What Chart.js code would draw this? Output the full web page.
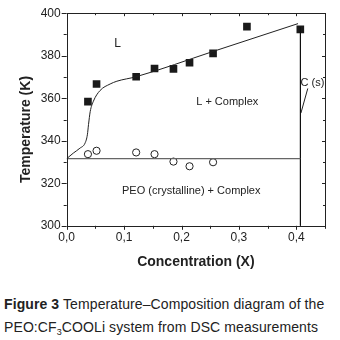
<!DOCTYPE html>
<html>
<head>
<meta charset="utf-8">
<script src="https://cdn.jsdelivr.net/npm/chart.js@4/dist/chart.umd.min.js"></script>
<style>
  body { margin: 0; background: #fff; width: 340px; height: 340px; overflow: hidden; }
  #wrap { position: absolute; left: 0; top: 0; width: 340px; height: 276px; }
  #caption {
    position: absolute; left: 4px; top: 293px; width: 336px;
    font-family: "Liberation Sans", Arial, sans-serif; font-size: 14px;
    line-height: 23px; color: #222; letter-spacing: 0.1px;
  }
  #caption b { font-weight: bold; }
  #caption sub { font-size: 9px; vertical-align: -3px; line-height: 0; }
</style>
</head>
<body>
<div id="wrap"><canvas id="chart"></canvas></div>
<div id="caption"><b>Figure 3</b> Temperature–Composition diagram of the<br>PEO:CF<sub>3</sub>COOLi system from DSC measurements</div>
<script>
// Liquidus (filled squares) from DSC
const liqX = [0.037, 0.052, 0.121, 0.153, 0.186, 0.214, 0.255, 0.314, 0.407];
const liqT = [358.4, 366.7, 370.1, 374.0, 373.8, 376.7, 381.1, 393.7, 392.4];

// Eutectic / melting of PEO (open circles)
const eutX = [0.037, 0.052, 0.121, 0.153, 0.186, 0.214, 0.255];
const eutT = [333.7, 335.3, 334.5, 333.7, 330.2, 328.0, 329.9];

// Hand drawn liquidus curve
const curveX = [0, 0.0116, 0.023, 0.032, 0.036, 0.038, 0.041, 0.0465, 0.058, 0.0757, 0.0874, 0.1206, 0.255, 0.403];
const curveT = [331.6, 334.2, 336.5, 338.9, 342.8, 347.6, 353.8, 358.6, 363.6, 366.7, 368.0, 370.1, 382.0, 395.1];

// Eutectic line and complex composition line
const eutLineX = [0, 0.407];
const eutLineT = [331.6, 331.6];
const compLineX = [0.4072, 0.4072];
const compLineT = [393.5, 300];
const pointerX = [0.408, 0.42];
const pointerT = [353, 364.6];

// Region labels
const regionText = ['L', 'L + Complex', 'PEO (crystalline) + Complex', 'C (s)'];
const regionX = [0.0885, 0.2797, 0.217, 0.4075];
const regionT = [385.6, 358.1, 316.4, 367.2];
const regionAlign = ['center', 'center', 'center', 'left'];

const xTicks = [0, 0.1, 0.2, 0.3, 0.4];
const xMinor = [0.05, 0.15, 0.25, 0.35, 0.45];
const yTicks = [300, 320, 340, 360, 380, 400];
const yMinor = [310, 330, 350, 370, 390];
const yTitle = 'Temperature (K)';

function pts(xs, ys) {
    return xs.map((x, i) => ({ x: x, y: ys[i] }));
}

const FONT = '"Liberation Sans", Arial, sans-serif';

// axis frame with minor/major ticks, y title and region labels
const framePlugin = {
    id: 'frame',
    afterDraw(chart) {
        const ctx = chart.ctx;
        const a = chart.chartArea;
        const xs = chart.scales.x;
        const ys = chart.scales.y;
        ctx.save();
        ctx.strokeStyle = '#222';
        ctx.lineWidth = 1;
        ctx.strokeRect(Math.round(a.left) + 0.5, Math.round(a.top) + 0.5,
            Math.round(a.right - a.left), Math.round(a.bottom - a.top));
        ctx.beginPath();
        yTicks.forEach(v => {
            const y = Math.round(ys.getPixelForValue(v)) + 0.5;
            ctx.moveTo(a.left - 5, y); ctx.lineTo(a.left, y);
            ctx.moveTo(a.right - 3, y); ctx.lineTo(a.right, y);
        });
        yMinor.forEach(v => {
            const y = Math.round(ys.getPixelForValue(v)) + 0.5;
            ctx.moveTo(a.left - 3, y); ctx.lineTo(a.left, y);
            ctx.moveTo(a.right - 2, y); ctx.lineTo(a.right, y);
        });
        xTicks.forEach(v => {
            const x = Math.round(xs.getPixelForValue(v)) + 0.5;
            ctx.moveTo(x, a.bottom); ctx.lineTo(x, a.bottom + 4);
            ctx.moveTo(x, a.top); ctx.lineTo(x, a.top + 3);
        });
        xMinor.forEach(v => {
            const x = Math.round(xs.getPixelForValue(v)) + 0.5;
            ctx.moveTo(x, a.bottom); ctx.lineTo(x, a.bottom + 3);
            ctx.moveTo(x, a.top); ctx.lineTo(x, a.top + 2);
        });
        ctx.stroke();

        ctx.fillStyle = '#222';
        ctx.textBaseline = 'middle';
        regionText.forEach((t, i) => {
            ctx.textAlign = regionAlign[i];
            ctx.font = (i === 0 ? '12px ' : '11px ') + FONT;
            ctx.fillText(t, xs.getPixelForValue(regionX[i]), ys.getPixelForValue(regionT[i]));
        });

        // y axis title, sits a little below the centre of the axis
        ctx.save();
        ctx.translate(26, ys.getPixelForValue(345.3));
        ctx.rotate(-Math.PI / 2);
        ctx.textAlign = 'center';
        ctx.font = 'bold 14px ' + FONT;
        ctx.fillText(yTitle, 0, 0);
        ctx.restore();
        ctx.restore();
    }
};

new Chart(document.getElementById('chart'), {
    type: 'scatter',
    data: {
        datasets: [
            {
                type: 'line', data: pts(curveX, curveT), borderColor: '#222', borderWidth: 1,
                pointRadius: 0, cubicInterpolationMode: 'monotone', fill: false
            },
            {
                type: 'line', data: pts(eutLineX, eutLineT), borderColor: '#666', borderWidth: 1.2,
                pointRadius: 0, fill: false
            },
            {
                type: 'line', data: pts(compLineX, compLineT), borderColor: '#111', borderWidth: 1,
                pointRadius: 0, fill: false
            },
            {
                type: 'line', data: pts(pointerX, pointerT), borderColor: '#222', borderWidth: 1,
                pointRadius: 0, fill: false
            },
            {
                data: pts(eutX, eutT), pointStyle: 'circle', pointRadius: 3.6,
                backgroundColor: '#fff', borderColor: '#222', borderWidth: 1
            },
            {
                data: pts(liqX, liqT), pointStyle: 'rect', pointRadius: 5.4,
                backgroundColor: '#1a1a1a', borderColor: '#1a1a1a', borderWidth: 0
            }
        ]
    },
    options: {
        responsive: true,
        maintainAspectRatio: false,
        animation: false,
        layout: { padding: { top: 12, right: 15, left: 0, bottom: 0 } },
        plugins: { legend: { display: false }, tooltip: { enabled: false } },
        scales: {
            x: {
                type: 'linear', min: 0, max: 0.45,
                afterBuildTicks: s => { s.ticks = xTicks.map(v => ({ value: v })); },
                grid: { display: false, drawTicks: false },
                border: { display: false },
                ticks: {
                    padding: 5, color: '#222', font: { family: FONT, size: 12 },
                    callback: v => v.toFixed(1).replace('.', ',')
                },
                title: {
                    display: true, text: 'Concentration (X)', color: '#222',
                    font: { family: FONT, size: 14, weight: 'bold' },
                    padding: { top: 4, bottom: 5 }
                }
            },
            y: {
                type: 'linear', min: 300, max: 400,
                afterBuildTicks: s => { s.ticks = yTicks.map(v => ({ value: v })); },
                afterFit: s => { s.width = 66.7; },
                grid: { display: false, drawTicks: false },
                border: { display: false },
                ticks: { padding: 6, color: '#222', font: { family: FONT, size: 12 } },
                title: { display: false }
            }
        }
    },
    plugins: [framePlugin]
});
</script>
</body>
</html>
